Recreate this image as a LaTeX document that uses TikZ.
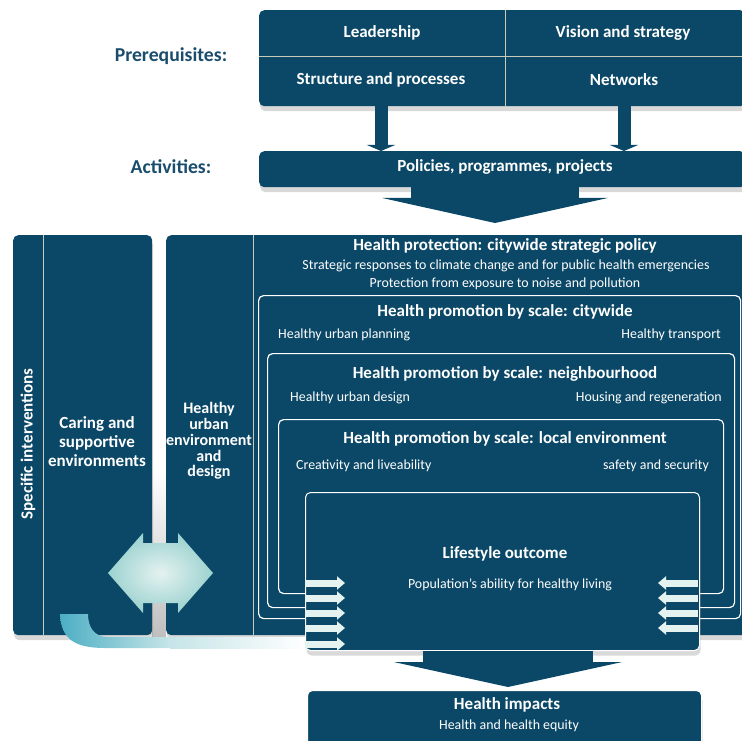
\documentclass[tikz,border=0pt]{standalone}
\usepackage{fontspec}
\setmainfont{Carlito}
\usetikzlibrary{positioning,arrows.meta,shadows,calc}
\definecolor{boxblue}{HTML}{0B4867}
\definecolor{labelblue}{HTML}{1A4D6C}
\definecolor{rulegrey}{HTML}{C9CBB8}
\definecolor{curveteal}{HTML}{4DAFC4}
\definecolor{paleteal}{HTML}{E4F2F0}
\definecolor{hexteal}{HTML}{9CD2D0}

\begin{document}
\begin{tikzpicture}[x=1pt, y=-1pt, font=\bfseries,
    box/.style={fill=boxblue, rounded corners=5pt, inner sep=0pt, anchor=north west,
      drop shadow={opacity=.3, shadow xshift=1pt, shadow yshift=-5pt}},
    scalebox/.style={fill=boxblue, draw=white, line width=1.2pt, rounded corners=5pt, inner sep=0pt, anchor=north west},
    head/.style={text=labelblue, font=\fontsize{19.7}{22}\selectfont\bfseries},
    title/.style={text=white, font=\fontsize{17}{20}\selectfont\bfseries},
    small/.style={text=white, inner sep=0pt, font=\fontsize{13.9}{16}\selectfont},
    divider/.style={draw=rulegrey, line width=.8pt},
    blockarrow/.style={draw=boxblue},
    wharrow/.style={draw=paleteal, line width=7pt, -{Triangle[width=13pt,length=8pt]}}]
  % background and frames
  \useasboundingbox (0,0) rectangle (742,741);
  \node[box, minimum width=486pt, minimum height=96pt] (prereq) at (259,10) {};
  \node[box, minimum width=486pt, minimum height=36pt] (act) at (259,151) {};
  \shade[top color=white, bottom color=black!25] (152,470) rectangle (166,636);
  \node[box, minimum width=139pt, minimum height=400pt] (left) at (13,235) {};
  \node[box, minimum width=582pt, minimum height=400pt] (mid) at (166,235) {};
  \draw[divider] (259,56) -- (745,56) (505,10) -- (505,106);
  \draw[divider] ($(left.north west)+(30,0)$) -- ($(left.south west)+(30,0)$);
  \draw[divider] ($(mid.north west)+(87,0)$) -- ($(mid.south west)+(87,0)$);
  % nested scales
  \node[scalebox, minimum width=482pt, minimum height=323pt] (city) at (258,295) {};
  \node[scalebox, minimum width=467pt, minimum height=254pt] (hood) at (267,353) {};
  \node[scalebox, minimum width=445pt, minimum height=174pt] (local) at (278,419) {};
  % curved feed from the left panel
  \shade[left color=curveteal, right color=paleteal!80!curveteal]
    (60,614) .. controls (61,640) and (76,648) .. (105,648) -- (170,648) -- (170,637)
    -- (108,637) .. controls (94,637) and (88,627) .. (88,614) -- cycle;
  \shade[left color=paleteal!80!curveteal, right color=white] (170,637) rectangle (306,648);
  \node[box, draw=white, line width=1pt, minimum width=394pt, minimum height=158pt] (life) at (305,492) {};
  \node[box, draw=white, line width=1pt, minimum width=394pt, minimum height=60pt] (impact) at (307,690) {};
  % labels
  \node[head] (prq) at (171,56) {Prerequisites:};
  \node[head] (actlbl) at (171,167) {Activities:};
  \foreach \x/\y/\name/\txt in {382/33/lead/Leadership, 623/33/vis/Vision and strategy,
      381/80/struct/Structure and processes, 624/80/net/Networks}
    \node[title] (\name) at (\x,\y) {\txt};
  \node[title] (pol) at (505,167) {Policies, programmes, projects};
  \node[title, rotate=90] (spec) at (28,444) {Specific interventions};
  \node[text=white, align=center, font=\fontsize{17}{19}\selectfont\bfseries] (caring) at (97,442)
    {Caring and\\supportive\\environments};
  \node[text=white, align=center, font=\fontsize{16}{15.8}\selectfont\bfseries] (urban) at (209,441)
    {Healthy\\urban\\environment\\and\\design};
  \node[title] (prot) at (505,246) {Health protection: citywide strategic policy};
  \node[small] (prot1) at (506,266) {Strategic responses to climate change and for public health emergencies};
  \node[small] (prot2) at (505,284) {Protection from exposure to noise and pollution};
  \node[title] (cityt) at (505,312) {Health promotion by scale: citywide};
  \node[small, anchor=west] (plan) at (278,335) {Healthy urban planning};
  \node[small, anchor=east] (trans) at (721,335) {Healthy transport};
  \node[title] (hoodt) at (505,374) {Health promotion by scale: neighbourhood};
  \node[small, anchor=west] (design) at (290,398) {Healthy urban design};
  \node[small, anchor=east] (housing) at (722,398) {Housing and regeneration};
  \node[title] (localt) at (505,439) {Health promotion by scale: local environment};
  \node[small, anchor=west] (creat) at (296,466) {Creativity and liveability};
  \node[small, anchor=east] (safe) at (709,466) {safety and security};
  \node[title] (lifet) at (505,554) {Lifestyle outcome};
  \node[small] (ability) at (510,585) {Population’s ability for healthy living};
  \node[title] (impt) at (507,705) {Health impacts};
  \node[small] (equity) at (509,726) {Health and health equity};
  % block arrows
  \coordinate (tipA) at (495,223);
  \coordinate (tipB) at (508,687);
  \draw[blockarrow, line width=13pt, -{Triangle[width=28pt,length=6pt]}] (prereq.south -| struct) -- (act.north -| struct);
  \draw[blockarrow, line width=13pt, -{Triangle[width=28pt,length=6pt]}] (prereq.south -| net) -- (act.north -| net);
  \draw[blockarrow, line width=168pt, -{Triangle[width=225pt,length=25pt]}] (act.south -| tipA) -- (tipA);
  \draw[blockarrow, line width=170pt, -{Triangle[width=228pt,length=25pt]}] (life.south -| tipB) -- (tipB);
  % two-way link between the panels
  \shade[inner color=paleteal, outer color=hexteal]
    (108,573) -- (143,533) -- (143,543) -- (178,543) -- (178,533) -- (213,573)
    -- (178,613) -- (178,603) -- (143,603) -- (143,613) -- cycle;
  \foreach \y in {583,598,613,628,644}{\draw[wharrow] (305,\y) -- (345,\y);}
  \foreach \y in {583,598,613,628}{\draw[wharrow] (698,\y) -- (658,\y);}
\end{tikzpicture}
\end{document}
